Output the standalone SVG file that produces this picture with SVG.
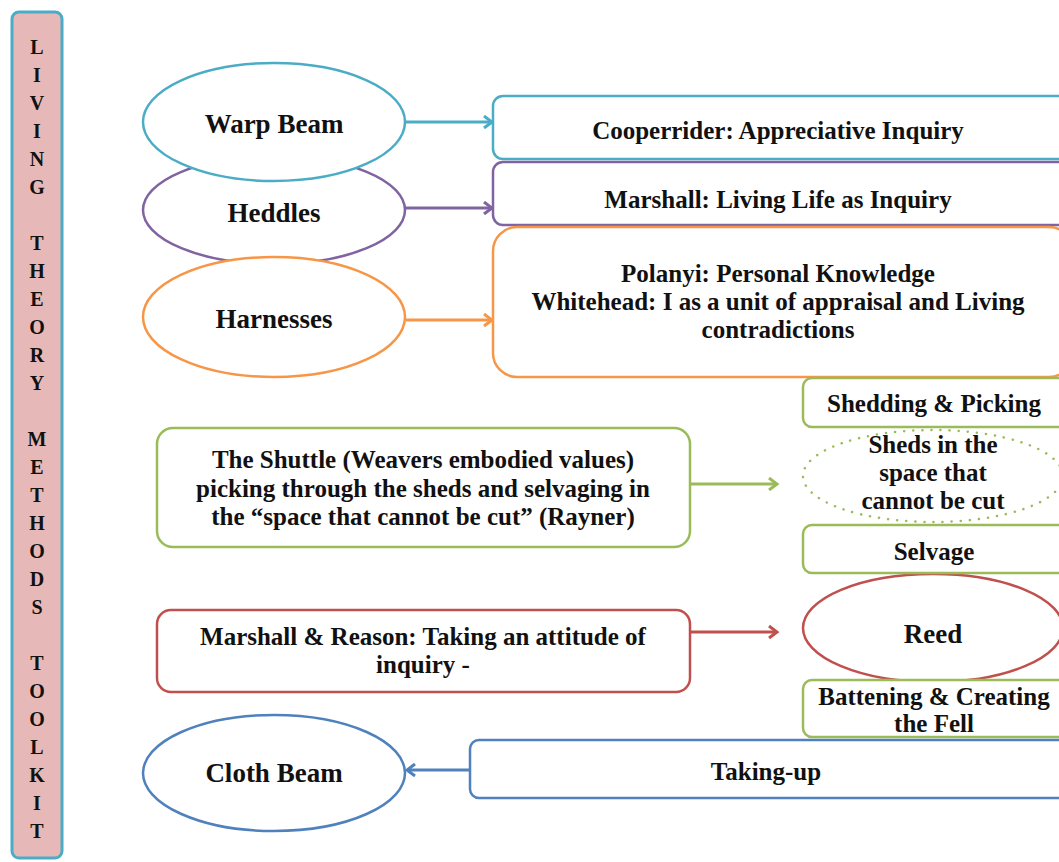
<svg xmlns="http://www.w3.org/2000/svg" width="1059" height="862" viewBox="0 0 1059 862">
<style>
text{font-family:"Liberation Serif","Times New Roman",serif;font-weight:bold;fill:#111;text-anchor:middle}
.t{font-size:25px}
.e{font-size:27px}
.bar{font-size:20px}
.n{fill:#fff;stroke-width:2.5}
.cb{stroke:#4bacc6}.cp{stroke:#8064a2}.co{stroke:#f79646}.cg{stroke:#9bbb59}.cr{stroke:#c0504d}.cd{stroke:#4f81bd}
.c{fill:none;stroke-width:3}
</style>
<defs>
<marker id="ab" markerWidth="12" markerHeight="14" refX="10" refY="7" orient="auto" markerUnits="userSpaceOnUse"><path d="M2,1 L10,7 L2,13" fill="none" stroke="#4bacc6" stroke-width="3"/></marker>
<marker id="ap" markerWidth="12" markerHeight="14" refX="10" refY="7" orient="auto" markerUnits="userSpaceOnUse"><path d="M2,1 L10,7 L2,13" fill="none" stroke="#8064a2" stroke-width="3"/></marker>
<marker id="ao" markerWidth="12" markerHeight="14" refX="10" refY="7" orient="auto" markerUnits="userSpaceOnUse"><path d="M2,1 L10,7 L2,13" fill="none" stroke="#f79646" stroke-width="3"/></marker>
<marker id="ag" markerWidth="12" markerHeight="14" refX="10" refY="7" orient="auto" markerUnits="userSpaceOnUse"><path d="M2,1 L10,7 L2,13" fill="none" stroke="#9bbb59" stroke-width="3"/></marker>
<marker id="ar" markerWidth="12" markerHeight="14" refX="10" refY="7" orient="auto" markerUnits="userSpaceOnUse"><path d="M2,1 L10,7 L2,13" fill="none" stroke="#c0504d" stroke-width="3"/></marker>
<marker id="ad" markerWidth="12" markerHeight="14" refX="10" refY="7" orient="auto" markerUnits="userSpaceOnUse"><path d="M2,1 L10,7 L2,13" fill="none" stroke="#4f81bd" stroke-width="3"/></marker>
</defs>
<rect width="1059" height="862" fill="#fff"/>

<g id="toolkit">
<rect x="12" y="12" width="50" height="846" rx="7" fill="#e6b9b8" stroke="#4bacc6" stroke-width="3"/>
<g class="bar">
<text x="37" y="54" class="bar">L</text>
<text x="37" y="82" class="bar">I</text>
<text x="37" y="110" class="bar">V</text>
<text x="37" y="138" class="bar">I</text>
<text x="37" y="166" class="bar">N</text>
<text x="37" y="194" class="bar">G</text>
<text x="37" y="250" class="bar">T</text>
<text x="37" y="278" class="bar">H</text>
<text x="37" y="306" class="bar">E</text>
<text x="37" y="334" class="bar">O</text>
<text x="37" y="362" class="bar">R</text>
<text x="37" y="390" class="bar">Y</text>
<text x="37" y="446" class="bar">M</text>
<text x="37" y="474" class="bar">E</text>
<text x="37" y="502" class="bar">T</text>
<text x="37" y="530" class="bar">H</text>
<text x="37" y="558" class="bar">O</text>
<text x="37" y="586" class="bar">D</text>
<text x="37" y="614" class="bar">S</text>
<text x="37" y="670" class="bar">T</text>
<text x="37" y="698" class="bar">O</text>
<text x="37" y="726" class="bar">O</text>
<text x="37" y="754" class="bar">L</text>
<text x="37" y="782" class="bar">K</text>
<text x="37" y="810" class="bar">I</text>
<text x="37" y="838" class="bar">T</text>
</g>
</g>

<g id="heddles">
<ellipse cx="274" cy="210" rx="131" ry="54" class="n cp"/>
<text x="274" y="222" class="e">Heddles</text>
</g>
<g id="warp-beam">
<ellipse cx="274" cy="122" rx="131" ry="59" class="n cb"/>
<text x="274" y="133" class="e">Warp Beam</text>
</g>
<g id="harnesses">
<ellipse cx="274" cy="317" rx="131" ry="60" class="n co"/>
<text x="274" y="328" class="e">Harnesses</text>
</g>

<g id="cooperrider">
<rect x="493" y="96" width="580" height="63" rx="10" class="n cb"/>
<text x="778" y="139" class="t">Cooperrider: Appreciative Inquiry</text>
</g>
<g id="marshall">
<rect x="493" y="162" width="580" height="63" rx="10" class="n cp"/>
<text x="778" y="208" class="t">Marshall: Living Life as Inquiry</text>
</g>
<g id="polanyi">
<rect x="493" y="227" width="580" height="150" rx="24" class="n co"/>
<text x="778" y="282" class="t">Polanyi: Personal Knowledge</text>
<text x="778" y="310" class="t">Whitehead: I as a unit of appraisal and Living</text>
<text x="778" y="338" class="t">contradictions</text>
</g>

<g id="shuttle">
<rect x="157" y="428" width="533" height="119" rx="16" class="n cg"/>
<text x="423" y="468" class="t">The Shuttle (Weavers embodied values)</text>
<text x="423" y="497" class="t">picking through the sheds and selvaging in</text>
<text x="423" y="525" class="t">the “space that cannot be cut” (Rayner)</text>
</g>
<g id="marshall-reason">
<rect x="157" y="610" width="533" height="82" rx="14" class="n cr"/>
<text x="423" y="645" class="t">Marshall &amp; Reason: Taking an attitude of</text>
<text x="423" y="673" class="t">inquiry -</text>
</g>

<g id="sheds">
<ellipse cx="933" cy="476" rx="130" ry="46" fill="#fff" stroke="#9bbb59" stroke-width="2.5" stroke-dasharray="0.1 9" stroke-linecap="round"/>
<text x="933" y="453" class="t">Sheds in the</text>
<text x="933" y="481" class="t">space that</text>
<text x="933" y="509" class="t">cannot be cut</text>
</g>
<g id="shedding">
<rect x="803" y="378" width="270" height="49" rx="9" class="n cg"/>
<text x="934" y="412" class="t">Shedding &amp; Picking</text>
</g>
<g id="reed">
<ellipse cx="933" cy="628" rx="130" ry="54" class="n cr"/>
<text x="933" y="643" class="e">Reed</text>
</g>
<g id="selvage">
<rect x="803" y="525" width="270" height="48" rx="9" class="n cg"/>
<text x="934" y="560" class="t">Selvage</text>
</g>
<g id="battening">
<rect x="803" y="680" width="270" height="57" rx="9" class="n cg"/>
<text x="934" y="705" class="t">Battening &amp; Creating</text>
<text x="934" y="732" class="t">the Fell</text>
</g>

<g id="cloth-beam">
<ellipse cx="274" cy="773" rx="131" ry="58" class="n cd"/>
<text x="274" y="782" class="e">Cloth Beam</text>
</g>
<g id="taking-up">
<rect x="470" y="740" width="600" height="58" rx="9" class="n cd"/>
<text x="766" y="780" class="t">Taking-up</text>
</g>

<g id="connectors">
<line x1="406" y1="122" x2="492" y2="122" class="c cb" marker-end="url(#ab)"/>
<line x1="406" y1="208" x2="492" y2="208" class="c cp" marker-end="url(#ap)"/>
<line x1="406" y1="320" x2="492" y2="320" class="c co" marker-end="url(#ao)"/>
<line x1="691" y1="484" x2="777" y2="484" class="c cg" marker-end="url(#ag)"/>
<line x1="691" y1="632" x2="777" y2="632" class="c cr" marker-end="url(#ar)"/>
<line x1="469" y1="770" x2="407" y2="770" class="c cd" marker-end="url(#ad)"/>
</g>
</svg>
